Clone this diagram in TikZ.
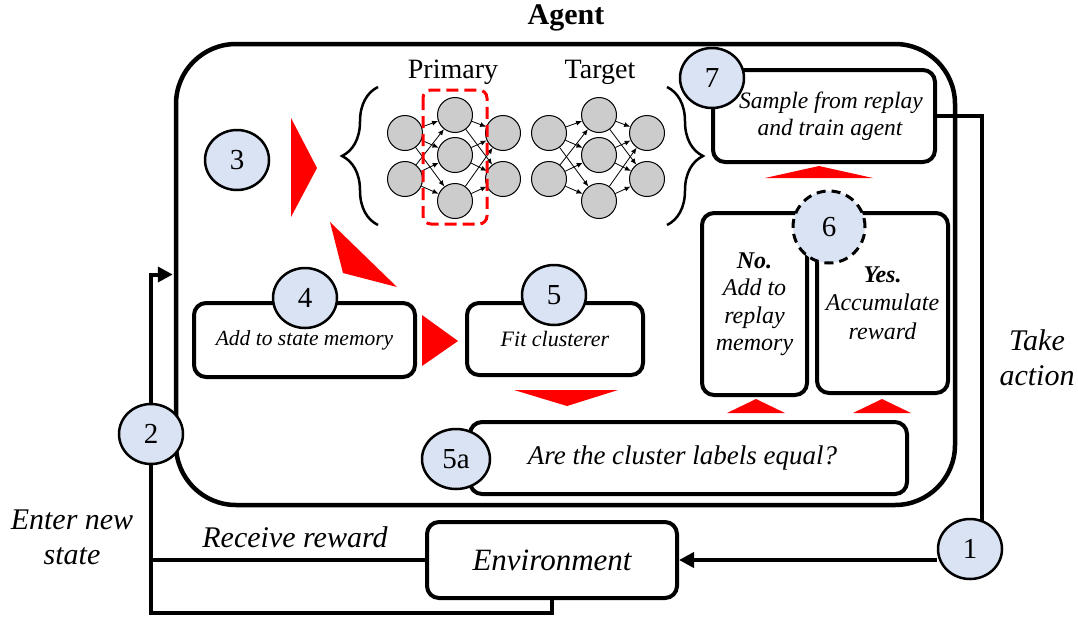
\documentclass[tikz,border=0pt]{standalone}
\usepackage{fontspec}
\setmainfont{Liberation Serif}
\usetikzlibrary{arrows.meta,shapes.geometric,decorations.pathreplacing,backgrounds}

\definecolor{numblue}{RGB}{218,227,243}
\definecolor{nngray}{RGB}{204,204,204}

\begin{document}
\begin{tikzpicture}[
    x=1pt, y=-1pt,
    num/.style={ellipse, draw, line width=2.5pt, fill=numblue, inner sep=0pt,
      minimum width=64pt, minimum height=60pt, font=\fontsize{29}{34}\selectfont},
    stepbox/.style={draw, line width=4pt, rounded corners=12pt, inner sep=0pt,
      align=center, font=\itshape},
    neuron/.style={circle, draw, line width=1pt, fill=nngray, minimum size=35pt,
      inner sep=0pt},
    syn/.style={line width=0.8pt, -{Latex[length=6pt,width=5pt]}},
    conn/.style={line width=4pt},
    bigtip/.style={-{Triangle[length=15pt,width=15pt]}},
    lbl/.style={align=center, font=\itshape\fontsize{30}{35}\selectfont}]

    \useasboundingbox (0,0) rectangle (1078,619);

    % agent

    \node[draw, line width=4.5pt, rounded corners=60pt, minimum width=779pt,
      minimum height=461pt] (agent) at (565.5,274.5) {};
    \node[font=\bfseries\fontsize{30}{35}\selectfont] (agentname) at (566,18) {Agent};

    % boxes

    \node[stepbox, minimum width=221pt, minimum height=74pt,
      font=\itshape\fontsize{21.5}{26}\selectfont] (box4) at (304.5,340) {Add to state memory};
    \node[stepbox, minimum width=176pt, minimum height=72pt,
      font=\itshape\fontsize{22}{26}\selectfont] (box5) at (555,339) {Fit clusterer};
    \node[stepbox, minimum width=437pt, minimum height=72pt,
      font=\itshape\fontsize{27}{32}\selectfont] (box5a) at (688.5,458) {Are the cluster labels equal?\hspace*{12pt}};
    \node[stepbox, minimum width=105pt, minimum height=182pt,
      font=\itshape\fontsize{24}{27.5}\selectfont] (boxno) at (754.5,304) {\textbf{No.}\\Add to\\replay\\memory};
    \node[stepbox, minimum width=131pt, minimum height=180pt,
      font=\itshape\fontsize{24}{28.5}\selectfont] (boxyes) at (882.5,303) {\textbf{Yes.}\\Accumulate\\reward};
    \node[stepbox, minimum width=222pt, minimum height=92pt,
      font=\itshape\fontsize{23.5}{27}\selectfont] (box7) at (824,116)
      {\hspace*{14pt}Sample from replay\\\hspace*{12pt}and train agent};
    \node[stepbox, minimum width=250pt, minimum height=76pt,
      font=\itshape\fontsize{31}{36}\selectfont] (env) at (552,560) {Environment};

    \coordinate (low) at (151,613);

    % numbers

    \node[num] (c1) at (970,549) {1};
    \node[num] (c2) at (151,434) {2};
    \node[num] (c3) at (237,160) {3};
    \node[num] (c4) at (305,298) {4};
    \node[num] (c5) at (554,295) {5};
    \node[num, minimum width=68pt] (c5a) at (456,459) {5a};
    \node[num, circle, minimum size=72pt, line width=3pt,
      dash pattern=on 9pt off 6pt] (c6) at (829,227) {6};
    \node[num] (c7) at (712,78) {7};

    % loop

    \begin{scope}[on background layer]
      \draw[conn] (box7.east) -| ([xshift=12pt]c1.center);
      \draw[conn, bigtip] (c1.west |- env.east) -- (env.east);
      \draw[conn] (env.west) -| (c2);
      \draw[conn] (env.south) |- (low) -- (c2);
      \draw[conn, bigtip, shorten >=1pt] (c2) |- (agent.west);
    \end{scope}

    \node[lbl] (takeaction) at (1037,358) {Take\\action};
    \node[lbl] (reward) at (295,537) {Receive reward};
    \node[lbl] (newstate) at (72,537) {Enter new\\state};

    % networks

    \foreach \net/\dx in {pr/0, tg/144} {
      \foreach \i/\y in {1/133, 2/179}
        \node[neuron] (\net-in-\i) at (405+\dx,\y) {};
      \foreach \j/\y in {1/115, 2/155, 3/201}
        \node[neuron] (\net-hid-\j) at (455+\dx,\y) {};
      \foreach \k/\y in {1/133, 2/179}
        \node[neuron] (\net-out-\k) at (503+\dx,\y) {};
      \foreach \i in {1,2}
        \foreach \j in {1,2,3}
          \draw[syn] (\net-in-\i) -- (\net-hid-\j);
      \foreach \j in {1,2,3}
        \foreach \k in {1,2}
          \draw[syn] (\net-hid-\j) -- (\net-out-\k);
    }

    \node[font=\fontsize{28}{33}\selectfont] (primary) at (453,72) {Primary};
    \node[font=\fontsize{28}{33}\selectfont] (target) at (600,72) {Target};

    \draw[red, line width=3pt, rounded corners=8pt, dash pattern=on 12pt off 6pt]
      (423,90) rectangle (487,224);

    \draw[line width=2.5pt, decorate, decoration={brace, amplitude=36pt}]
      (378,225) -- (378,87);
    \draw[line width=2.5pt, decorate, decoration={brace, amplitude=36pt}]
      (667,87) -- (667,225);

    % red arrows

    \fill[red] (291,118) -- (291,217) -- (317,168) -- cycle;
    \fill[red] (330,222) -- (343,273) -- (397,287) -- cycle;
    \fill[red] (422,315) -- (422,366) -- (458,341) -- cycle;
    \fill[red] (514,390) -- (618,390) -- (567,406) -- cycle;
    \fill[red] (727,413) -- (785,413) -- (756,399) -- cycle;
    \fill[red] (853,413) -- (911,413) -- (882,399) -- cycle;
    \fill[red] (765,178) -- (873,178) -- (819,166) -- cycle;

  \end{tikzpicture}
\end{document}
